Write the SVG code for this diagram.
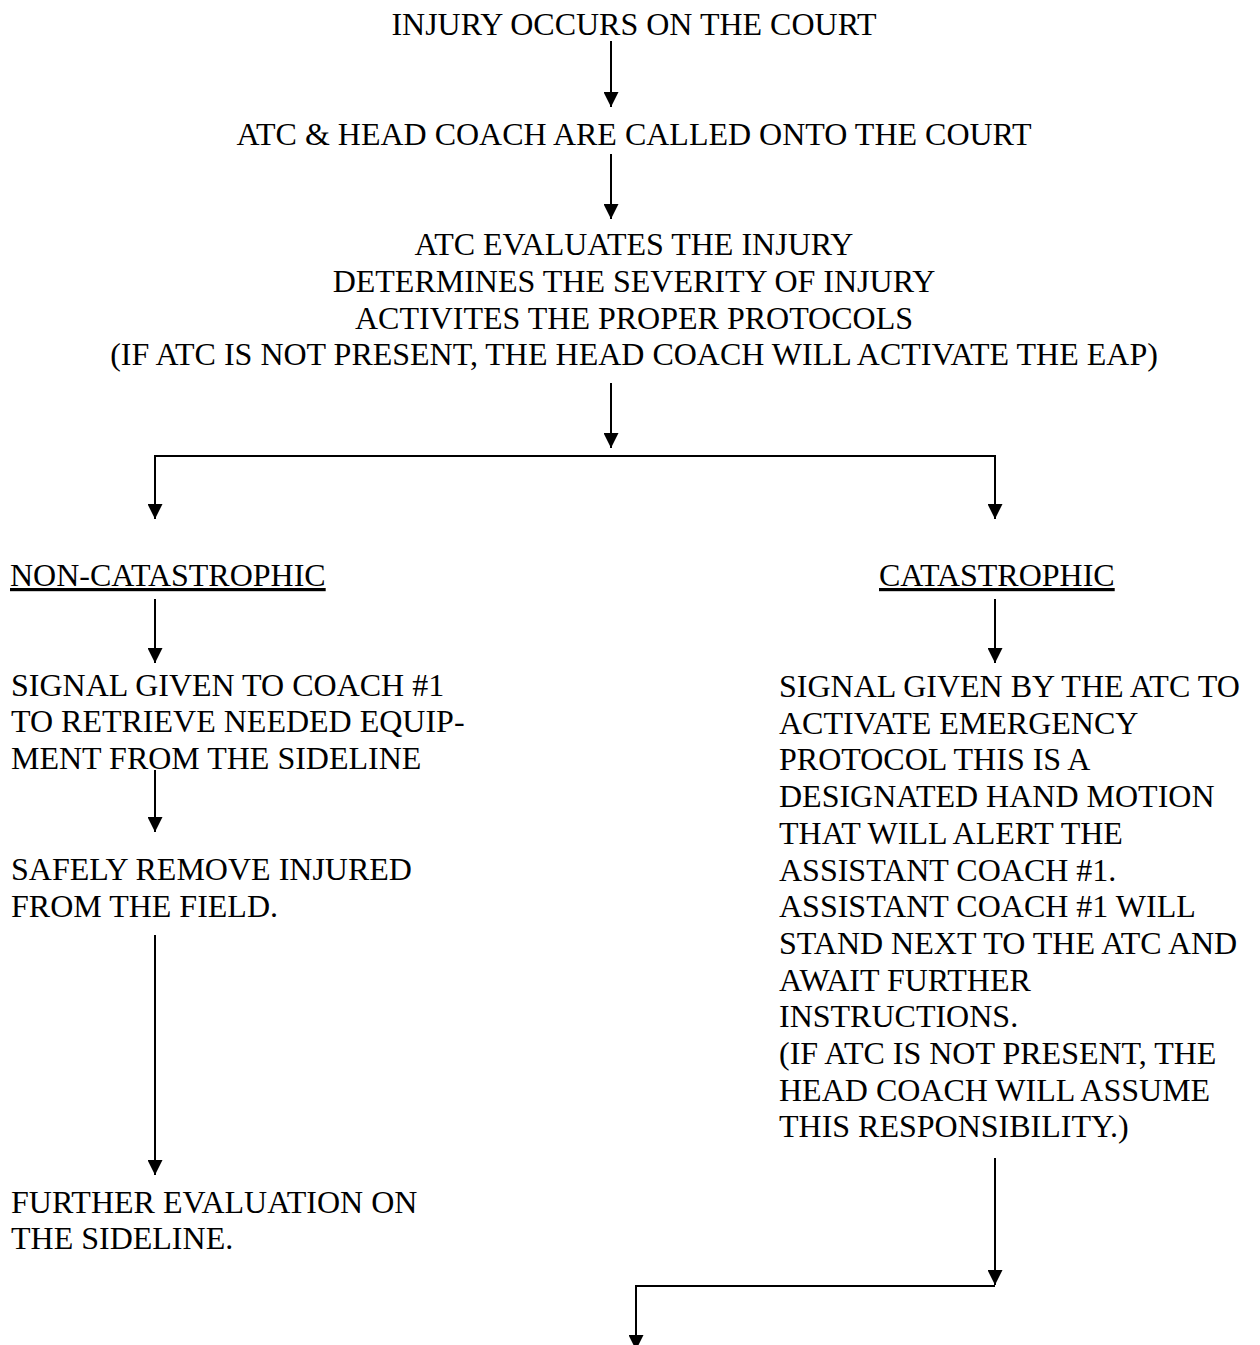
<svg xmlns="http://www.w3.org/2000/svg" width="1260" height="1345" viewBox="0 0 1260 1345">
<style>
text { font-family: "Liberation Serif", "Times New Roman", serif; font-size: 32px; fill: #000; }
.c { text-anchor: middle; }
.u { text-decoration: underline; }
.conn { stroke: #000; stroke-width: 2; fill: none; }
</style>
<defs>
<marker id="ah" markerUnits="userSpaceOnUse" markerWidth="15" markerHeight="15" refX="15" refY="7.5" orient="auto">
<path d="M0,0 L15,7.5 L0,15 z" fill="#000"/>
</marker>
</defs>
<rect width="1260" height="1345" fill="#fff"/>
<g id="n1"><text class="c" x="634" y="35">INJURY OCCURS ON THE COURT</text></g>
<g id="n2"><text class="c" x="634" y="145.2">ATC &amp; HEAD COACH ARE CALLED ONTO THE COURT</text></g>
<g id="n3">
<text class="c" x="634" y="255.3">ATC EVALUATES THE INJURY</text>
<text class="c" x="634" y="292">DETERMINES THE SEVERITY OF INJURY</text>
<text class="c" x="634" y="328.7">ACTIVITES THE PROPER PROTOCOLS</text>
<text class="c" x="634" y="365.4">(IF ATC IS NOT PRESENT, THE HEAD COACH WILL ACTIVATE THE EAP)</text>
</g>
<g id="n4"><text class="u" x="10" y="586">NON-CATASTROPHIC</text></g>
<g id="n5"><text class="u" x="879" y="586">CATASTROPHIC</text></g>
<g id="n6">
<text x="11" y="695.5">SIGNAL GIVEN TO COACH #1</text>
<text x="11" y="732.2">TO RETRIEVE NEEDED EQUIP-</text>
<text x="11" y="768.9">MENT FROM THE SIDELINE</text>
</g>
<g id="n7">
<text x="11" y="880">SAFELY REMOVE INJURED</text>
<text x="11" y="916.7">FROM THE FIELD.</text>
</g>
<g id="n8">
<text x="11" y="1212.5">FURTHER EVALUATION ON</text>
<text x="11" y="1249.2">THE SIDELINE.</text>
</g>
<g id="n9">
<text x="779" y="697">SIGNAL GIVEN BY THE ATC TO</text>
<text x="779" y="733.7">ACTIVATE EMERGENCY</text>
<text x="779" y="770.4">PROTOCOL THIS IS A</text>
<text x="779" y="807.1">DESIGNATED HAND MOTION</text>
<text x="779" y="843.8">THAT WILL ALERT THE</text>
<text x="779" y="880.5">ASSISTANT COACH #1.</text>
<text x="779" y="917.2">ASSISTANT COACH #1 WILL</text>
<text x="779" y="953.9">STAND NEXT TO THE ATC AND</text>
<text x="779" y="990.6">AWAIT FURTHER</text>
<text x="779" y="1027.3">INSTRUCTIONS.</text>
<text x="779" y="1064">(IF ATC IS NOT PRESENT, THE</text>
<text x="779" y="1100.7">HEAD COACH WILL ASSUME</text>
<text x="779" y="1137.4">THIS RESPONSIBILITY.)</text>
</g>
<g id="connectors">
<line class="conn" x1="611" y1="41" x2="611" y2="107" marker-end="url(#ah)"/>
<line class="conn" x1="611" y1="154" x2="611" y2="219" marker-end="url(#ah)"/>
<line class="conn" x1="611" y1="383" x2="611" y2="448" marker-end="url(#ah)"/>
<path class="conn" d="M611,456 L155,456 L155,519" marker-end="url(#ah)"/>
<path class="conn" d="M611,456 L995,456 L995,519" marker-end="url(#ah)"/>
<line class="conn" x1="155" y1="599" x2="155" y2="663" marker-end="url(#ah)"/>
<line class="conn" x1="995" y1="599" x2="995" y2="663" marker-end="url(#ah)"/>
<line class="conn" x1="155" y1="770" x2="155" y2="832" marker-end="url(#ah)"/>
<line class="conn" x1="155" y1="935" x2="155" y2="1175" marker-end="url(#ah)"/>
<line class="conn" x1="995" y1="1158" x2="995" y2="1285" marker-end="url(#ah)"/>
<path class="conn" d="M995,1286 L636,1286 L636,1350" marker-end="url(#ah)"/>
</g>
</svg>
